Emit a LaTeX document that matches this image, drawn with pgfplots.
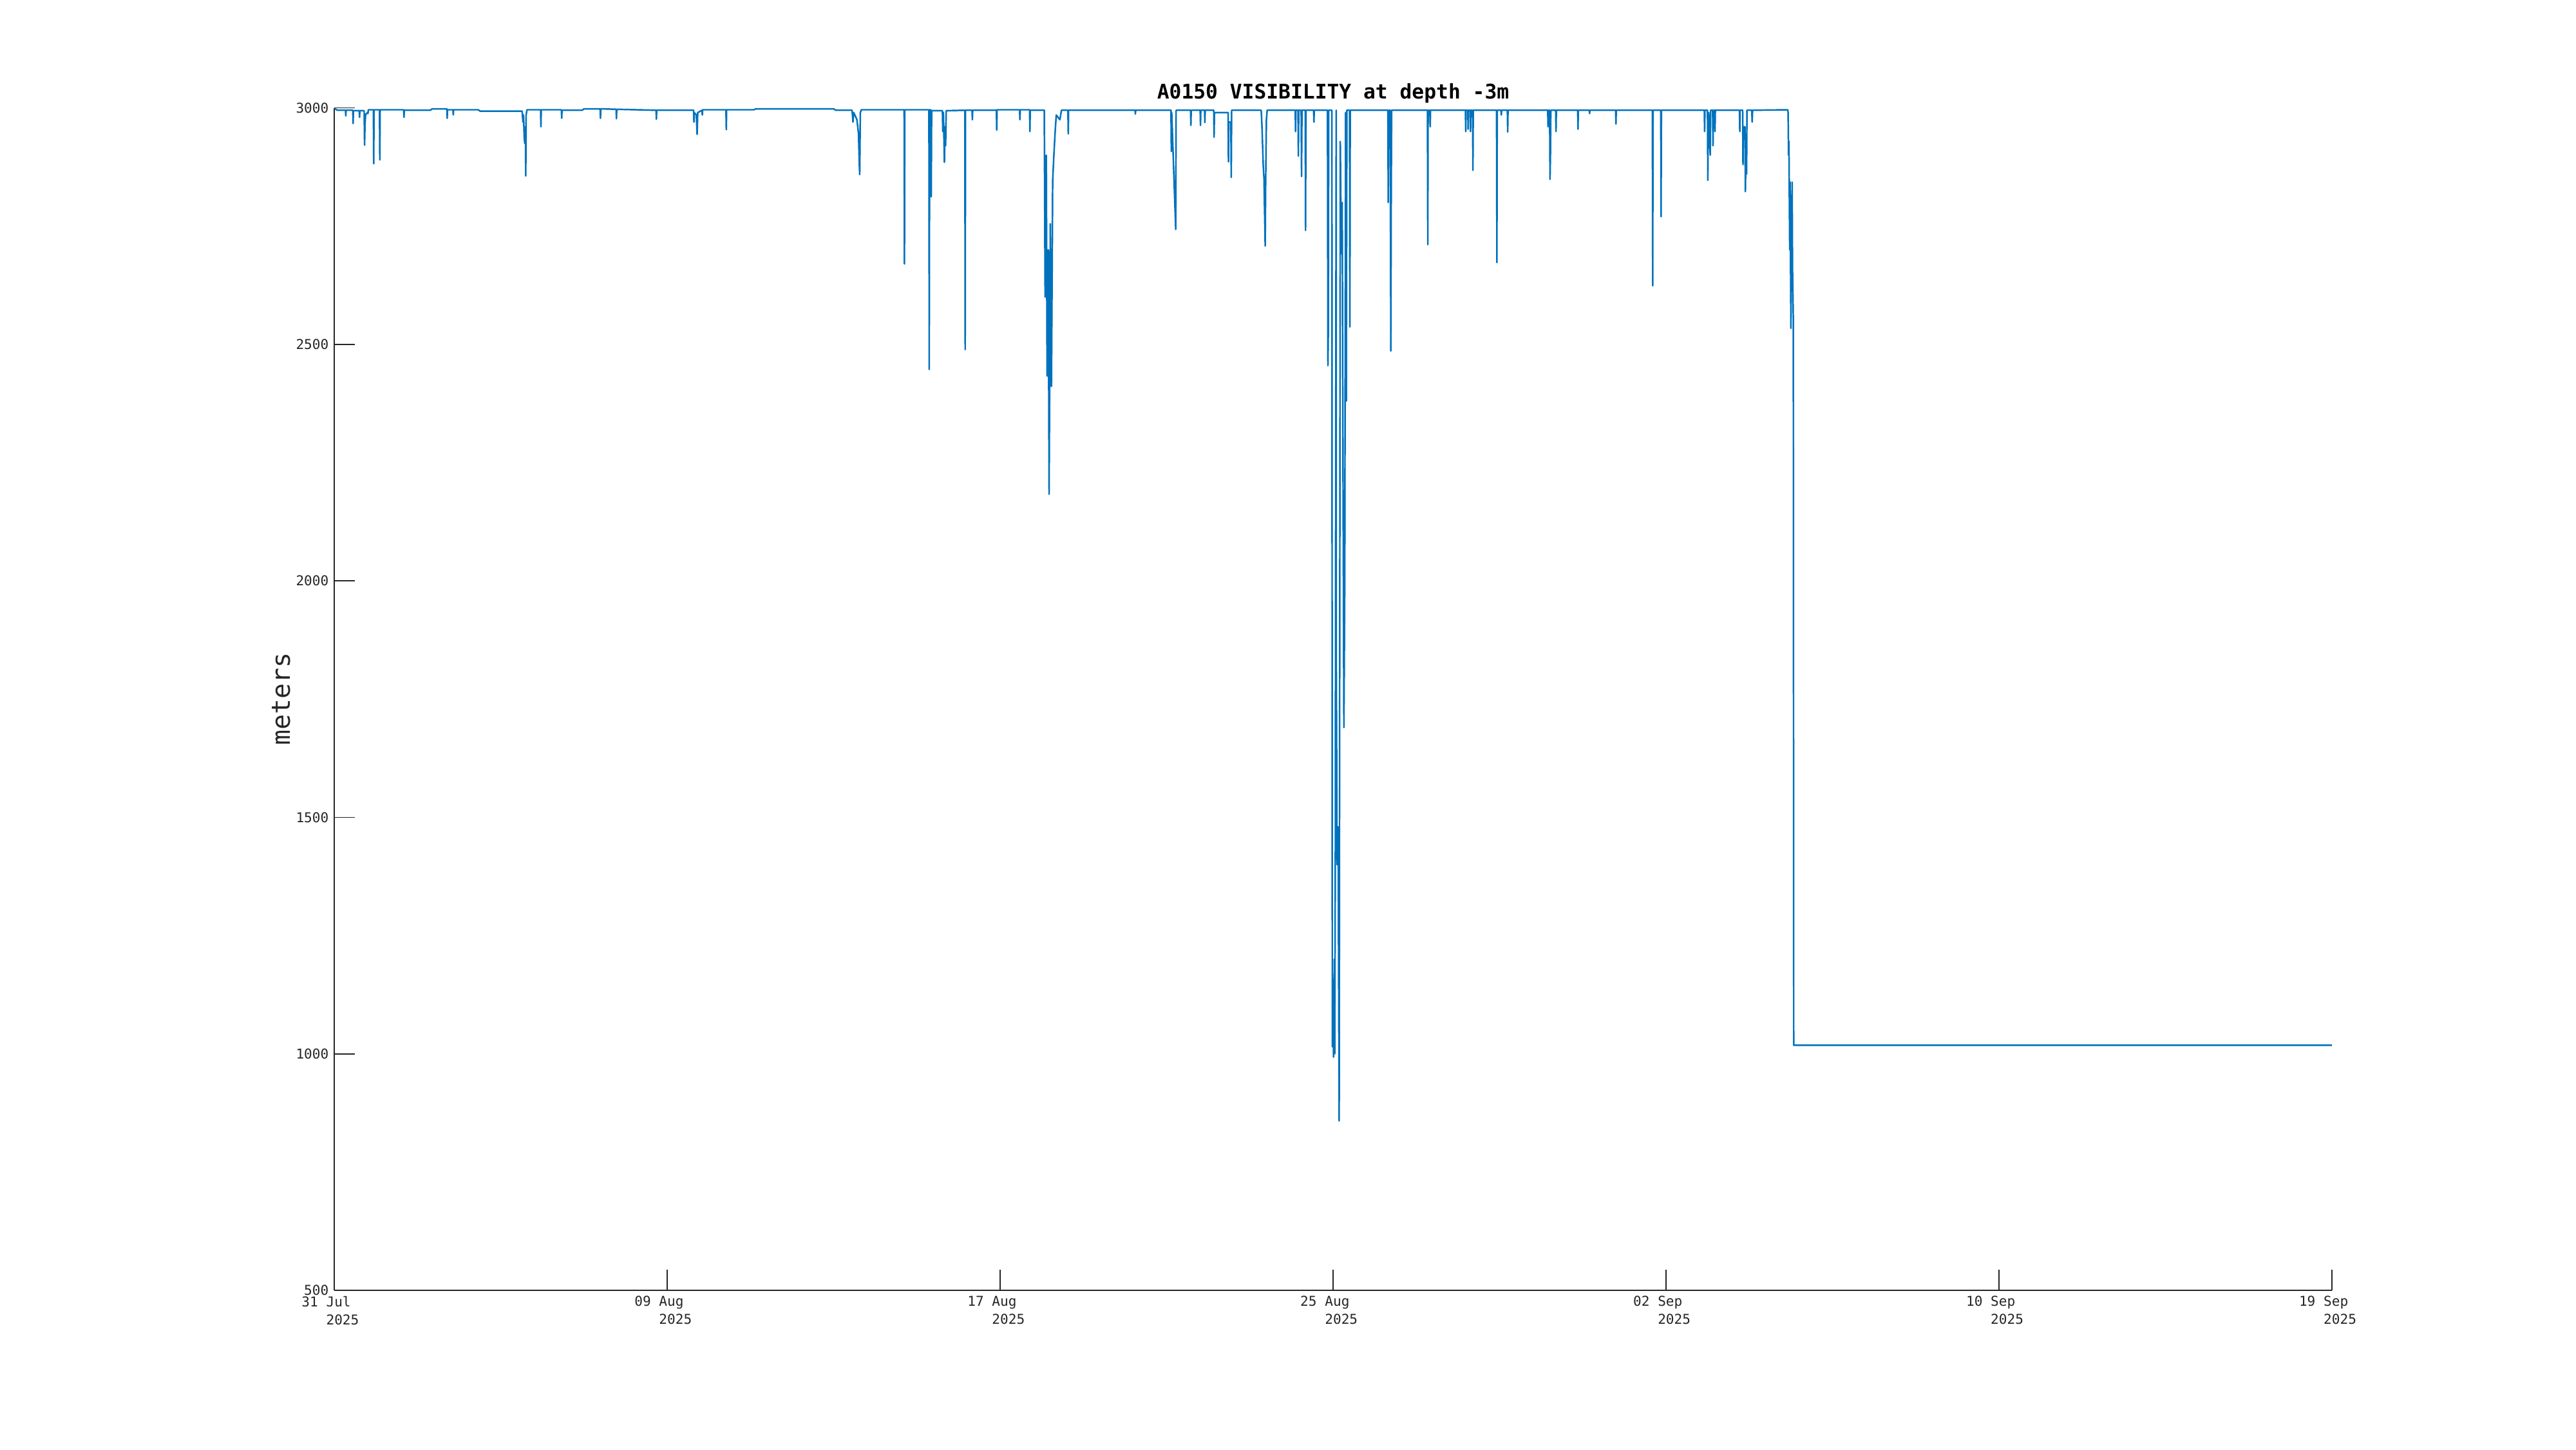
\documentclass[border=0pt]{standalone}
\usepackage{fontspec}
\setmainfont{DejaVu Sans Mono}
\setmonofont{DejaVu Sans Mono}
\usepackage{pgfplots}
\pgfplotsset{compat=1.18}
\usepackage{pgfplotstable}
\definecolor{mblue}{HTML}{0072BD}
\definecolor{axgray}{HTML}{262626}

\pgfplotstableread{
day val
0.000 2998
0.030 2997
0.080 2995
0.277 2995
0.285 2983
0.293 2995
0.460 2995
0.468 2967
0.476 2994
0.621 2994
0.629 2980
0.637 2994
0.745 2994
0.755 2921
0.765 2962
0.780 2986
0.830 2990
0.840 2988
0.850 2996
0.976 2996
0.984 2882
0.992 2996
1.129 2996
1.137 2890
1.145 2996
1.734 2996
1.742 2980
1.750 2995
2.400 2995
2.450 2998
2.815 2998
2.823 2978
2.831 2996
2.968 2996
2.976 2985
2.984 2996
3.600 2996
3.650 2993
4.700 2993
4.720 2970
4.735 2985
4.750 2940
4.765 2925
4.780 2960
4.790 2856
4.800 2985
4.820 2996
5.162 2996
5.170 2960
5.178 2996
5.682 2996
5.690 2978
5.698 2995
6.200 2995
6.250 2998
6.652 2998
6.660 2978
6.668 2998
7.052 2997
7.060 2977
7.068 2997
8.052 2995
8.060 2976
8.068 2995
8.992 2995
9.000 2970
9.010 2990
9.060 2985
9.080 2944
9.095 2990
9.202 2995
9.210 2985
9.218 2996
9.802 2996
9.810 2954
9.818 2996
10.500 2996
10.550 2998
12.500 2998
12.550 2995
12.960 2995
12.980 2970
13.000 2990
13.080 2975
13.120 2945
13.140 2880
13.150 2859
13.165 2990
13.190 2996
14.262 2996
14.270 2670
14.278 2996
14.882 2996
14.890 2447
14.900 2996
14.930 2996
14.940 2812
14.950 2994
15.220 2994
15.230 2950
15.245 2990
15.270 2885
15.285 2960
15.300 2920
15.315 2994
15.782 2995
15.790 2489
15.798 2995
15.962 2995
15.970 2975
15.978 2995
16.572 2995
16.580 2953
16.588 2996
17.152 2996
17.160 2975
17.168 2996
17.402 2996
17.410 2950
17.418 2995
17.770 2995
17.790 2600
17.820 2900
17.840 2433
17.870 2700
17.890 2183
17.910 2500
17.920 2755
17.950 2411
17.980 2846
18.010 2900
18.040 2947
18.070 2985
18.160 2975
18.200 2995
18.362 2995
18.370 2945
18.378 2995
20.042 2995
20.050 2987
20.058 2995
20.942 2995
20.950 2908
20.960 2990
21.060 2743
21.070 2995
21.432 2995
21.440 2963
21.448 2995
21.672 2995
21.680 2963
21.688 2995
21.782 2995
21.790 2969
21.798 2995
22.012 2995
22.020 2938
22.030 2990
22.372 2990
22.380 2886
22.390 2970
22.440 2970
22.450 2853
22.460 2995
23.200 2995
23.220 2960
23.250 2880
23.270 2850
23.300 2708
23.310 2830
23.330 2975
23.350 2995
24.052 2995
24.060 2950
24.068 2995
24.122 2995
24.130 2898
24.140 2995
24.200 2995
24.210 2855
24.220 2995
24.302 2995
24.310 2741
24.320 2995
24.512 2995
24.520 2970
24.528 2995
24.860 2995
24.870 2455
24.880 2525
24.890 2995
24.970 2995
24.980 1015
24.995 1100
25.010 993
25.030 1200
25.040 1000
25.055 1409
25.066 2335
25.077 2995
25.080 1809
25.100 1400
25.125 1480
25.152 858
25.180 2929
25.206 2692
25.227 2800
25.250 2173
25.270 1690
25.292 2000
25.313 2990
25.330 2380
25.345 2995
25.412 2995
25.420 2537
25.428 2995
26.372 2995
26.380 2800
26.390 2995
26.430 2995
26.445 2486
26.455 2820
26.465 2995
27.362 2995
27.370 2711
27.378 2995
27.422 2995
27.430 2960
27.438 2995
28.312 2995
28.320 2950
28.328 2995
28.372 2995
28.380 2955
28.388 2995
28.432 2995
28.440 2950
28.448 2995
28.492 2995
28.500 2868
28.508 2995
29.092 2995
29.100 2673
29.108 2995
29.202 2995
29.210 2985
29.218 2995
29.362 2995
29.370 2949
29.378 2995
30.372 2995
30.380 2960
30.388 2995
30.420 2995
30.430 2849
30.440 2900
30.450 2995
30.572 2995
30.580 2950
30.588 2995
31.122 2995
31.130 2955
31.138 2995
31.412 2995
31.420 2988
31.428 2995
32.072 2995
32.080 2966
32.088 2995
32.992 2995
33.000 2624
33.008 2995
33.202 2995
33.210 2770
33.218 2995
34.292 2995
34.300 2950
34.308 2995
34.372 2995
34.380 2847
34.390 2960
34.400 2990
34.440 2900
34.450 2995
34.500 2995
34.510 2920
34.520 2995
34.552 2995
34.560 2950
34.568 2995
35.172 2995
35.180 2950
35.188 2995
35.252 2995
35.260 2880
35.270 2960
35.310 2960
35.320 2823
35.330 2880
35.350 2860
35.360 2995
35.480 2995
35.490 2970
35.500 2995
36.380 2996
36.390 2990
36.400 2900
36.410 2930
36.430 2700
36.440 2843
36.460 2534
36.470 2700
36.480 2612
36.490 2843
36.500 2660
36.520 2550
36.530 1018
50.000 1018
}\vis

\begin{document}
\begin{tikzpicture}
\begin{axis}[
  name=ax,
  scale only axis,
  width=31.0cm, height=18.355cm,
  xmin=0, xmax=50, ymin=500, ymax=3000,
  axis x line*=bottom, axis y line*=left,
  axis line style={axgray, line width=0.5pt},
  tick align=inside,
  major tick length=0.32cm,
  tick style={axgray, line width=0.5pt},
  xtick={0,8.33333,16.66667,25,33.33333,41.66667,50},
  xticklabels={
    {31 Jul\phantom{00}\\\phantom{00}2025},
    {09 Aug\phantom{00}\\\phantom{00}2025},
    {17 Aug\phantom{00}\\\phantom{00}2025},
    {25 Aug\phantom{00}\\\phantom{00}2025},
    {02 Sep\phantom{00}\\\phantom{00}2025},
    {10 Sep\phantom{00}\\\phantom{00}2025},
    {19 Sep\phantom{00}\\\phantom{00}2025}},
  ytick={500,1000,1500,2000,2500,3000},
  yticklabels={500,1000,1500,2000,2500,3000},
  ticklabel style={font=\fontsize{6}{8}\selectfont, text=axgray},
  xticklabel style={align=center, yshift=1pt},
  yticklabel style={xshift=1pt},
  ylabel={meters},
  ylabel style={at={(axis description cs:-0.0265,0.5)}, anchor=center, font=\fontsize{11.3}{13}\selectfont, text=axgray},
  title={\bfseries A0150 VISIBILITY at depth -3m},
  title style={at={(axis description cs:0.5,1)}, anchor=base, yshift=-0.07cm, font=\fontsize{8.9}{11}\selectfont, text=black},
  clip=false,
]
\addplot[mblue, line width=0.7pt, line join=round] table[x=day, y=val] {\vis};
\end{axis}
\path[use as bounding box] ([xshift=-5.19cm,yshift=-2.47cm]ax.south west) rectangle ([xshift=3.79cm,yshift=1.675cm]ax.north east);
\end{tikzpicture}
\end{document}
